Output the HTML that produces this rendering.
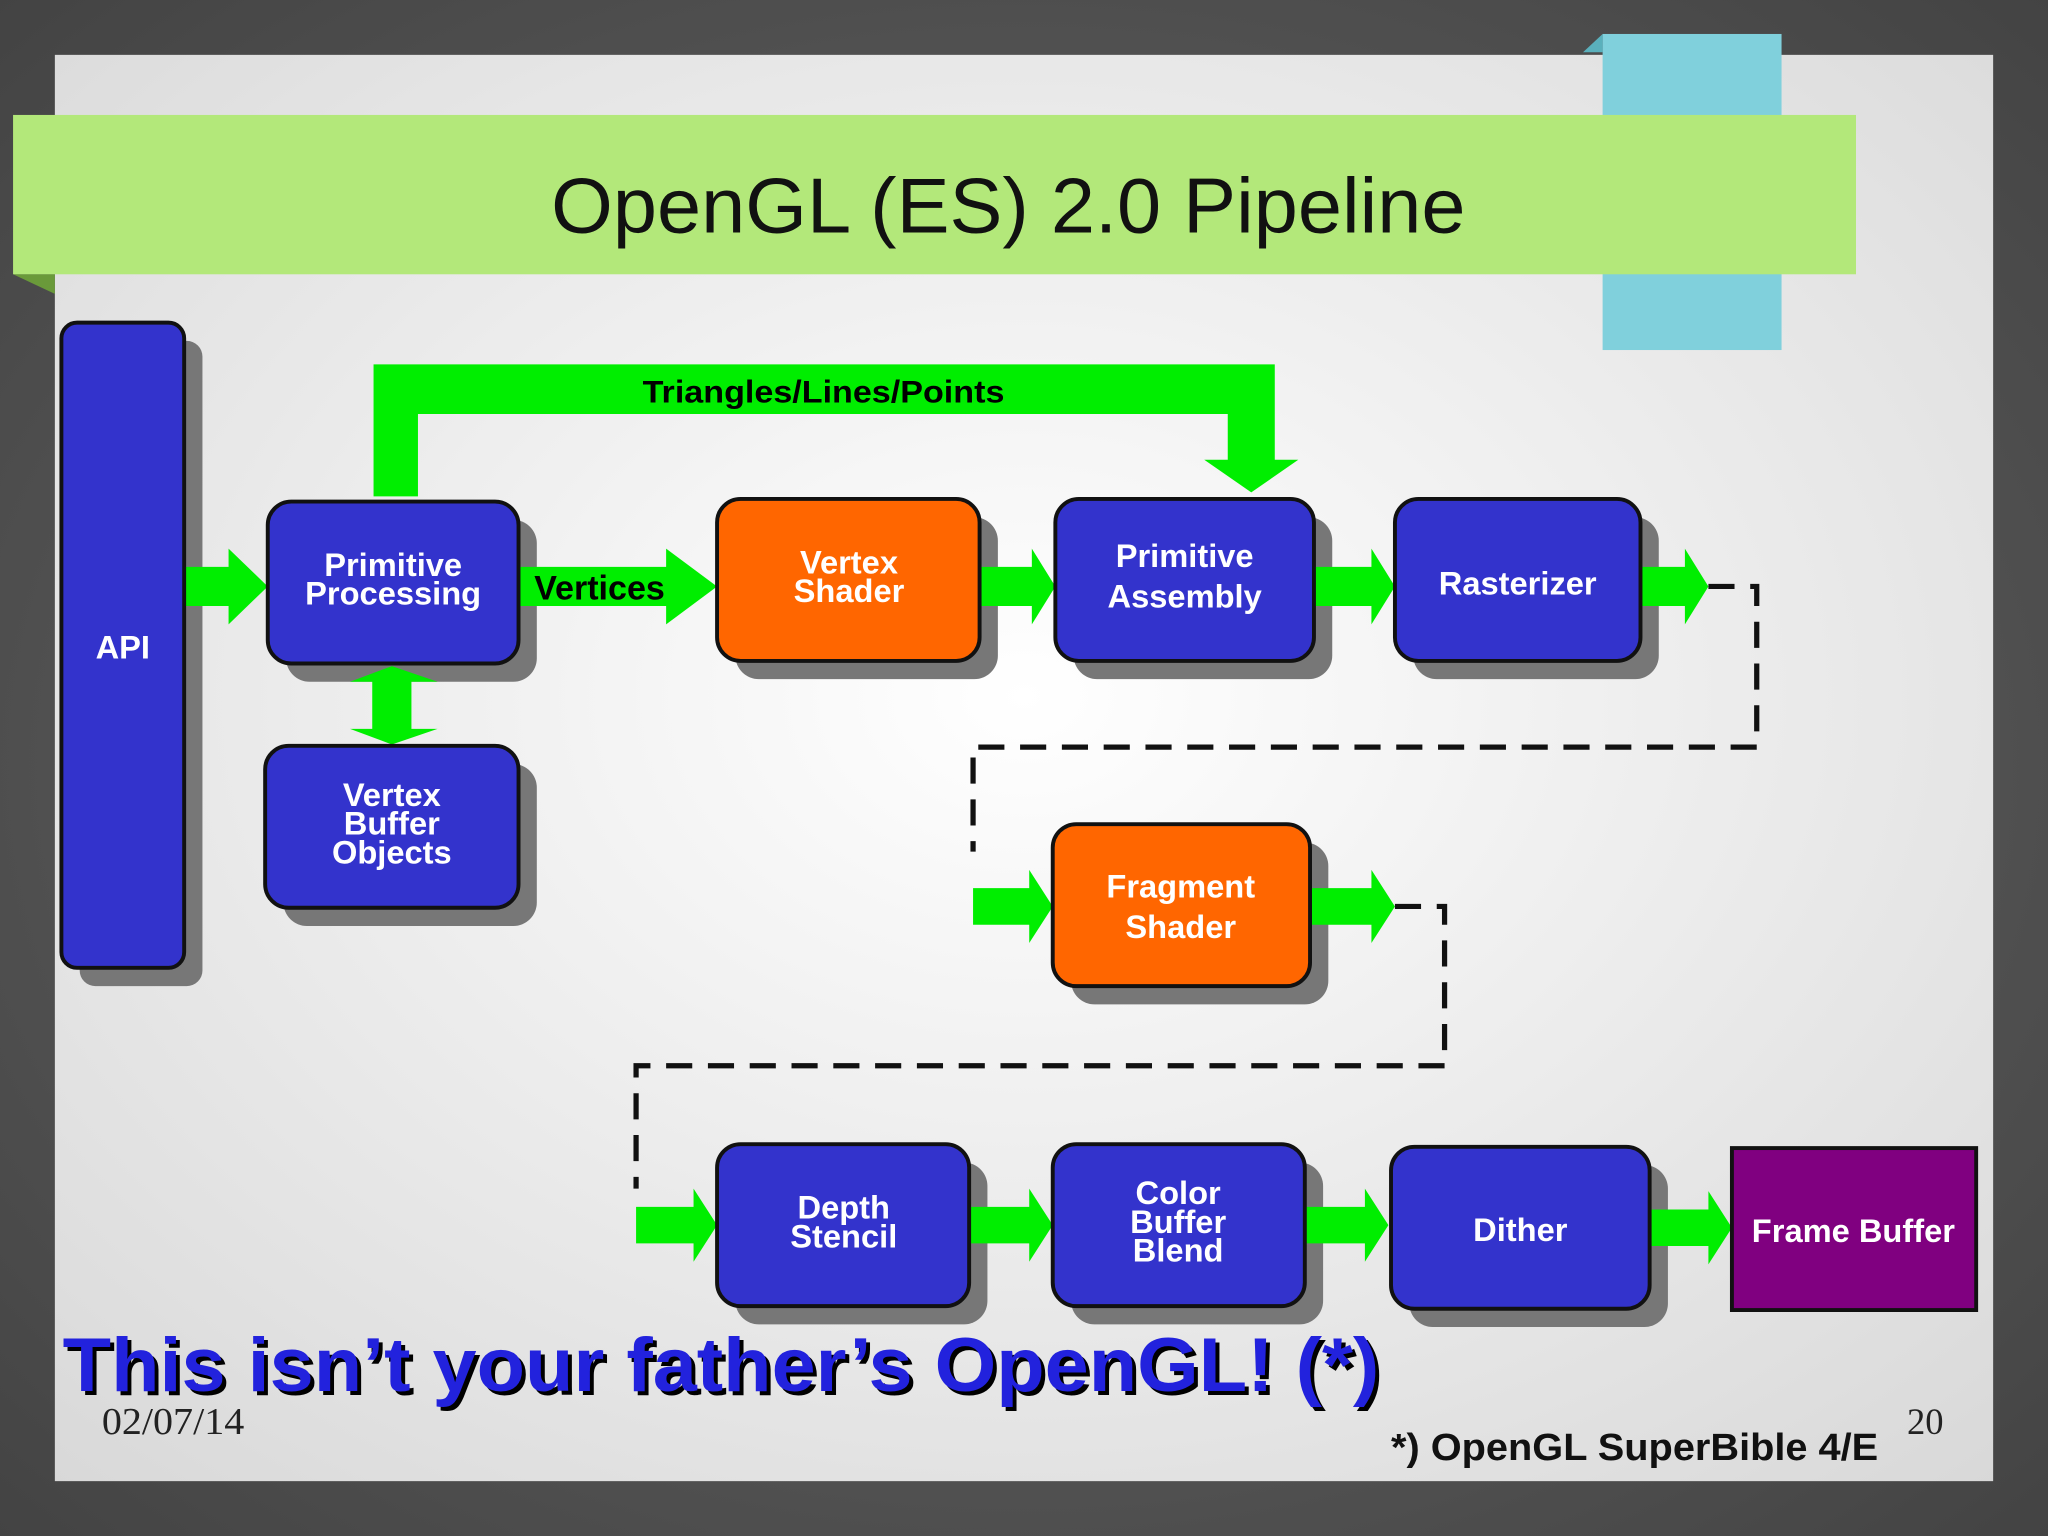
<!DOCTYPE html>
<html><head><meta charset="utf-8"><style>html,body{margin:0;padding:0;background:#555}svg{display:block}</style></head>
<body>
<svg width="2048" height="1536" viewBox="0 0 1568 1176" xmlns="http://www.w3.org/2000/svg" font-family="Liberation Sans, sans-serif">
<defs>
<radialGradient id="bg" cx="0.5" cy="0.45" r="0.75"><stop offset="0" stop-color="#ffffff"/><stop offset="1" stop-color="#d8d8d8"/></radialGradient>
<radialGradient id="outer" cx="0.5" cy="0.5" r="0.8"><stop offset="0" stop-color="#6a6a6a"/><stop offset="1" stop-color="#3e3e3e"/></radialGradient>
</defs>
<rect width="1568" height="1176" fill="url(#outer)"/>
<rect x="42" y="42" width="1484" height="1092" fill="url(#bg)"/>
<rect x="1227" y="26" width="137" height="242" fill="#80d0dc"/>
<polygon points="1212,40 1227,26 1227,40" fill="#5ab0bc"/>
<polygon points="10,210 42,210 42,225" fill="#6a9a3a"/>
<rect x="10" y="88" width="1411" height="122" fill="#b3e87a"/>
<text x="422" y="178" font-size="60" textLength="700" lengthAdjust="spacingAndGlyphs" fill="#111">OpenGL (ES) 2.0 Pipeline</text>

<g fill="#777">
<rect x="61" y="261" width="94" height="494" rx="12"/>
<rect x="219" y="398" width="192" height="124" rx="18"/>
<rect x="563" y="396" width="201" height="124" rx="18"/>
<rect x="822" y="396" width="198" height="124" rx="18"/>
<rect x="1082" y="396" width="188" height="124" rx="18"/>
<rect x="217" y="585" width="194" height="124" rx="18"/>
<rect x="820" y="645" width="197" height="124" rx="18"/>
<rect x="563" y="890" width="193" height="124" rx="18"/>
<rect x="820" y="890" width="193" height="124" rx="18"/>
<rect x="1079" y="892" width="198" height="124" rx="18"/>
</g>

<g fill="#00ee00">
<path d="M286,380 V279 H976 V352 H994 L958,377 L922,352 H940 V317 H320 V380 Z"/>
<path d="M141,434 H175 V420 L205,449 L175,478 V464 H141 Z"/>
<path d="M397,434 H510 V420 L549,449 L510,478 V464 H397 Z"/>
<path d="M750,434 H790 V420 L808,449 L790,478 V464 H750 Z"/>
<path d="M1006,434 H1050 V420 L1068,449 L1050,478 V464 H1006 Z"/>
<path d="M1256,434 H1290 V420 L1308,449 L1290,478 V464 H1256 Z"/>
<path d="M745,680 H788 V666 L806,694 L788,722 V708 H745 Z"/>
<path d="M1003,680 H1050 V666 L1068,694 L1050,722 V708 H1003 Z"/>
<path d="M487,924 H531 V910 L549,938 L531,966 V952 H487 Z"/>
<path d="M742,924 H788 V910 L806,938 L788,966 V952 H742 Z"/>
<path d="M999,924 H1045 V910 L1063,938 L1045,966 V952 H999 Z"/>
<path d="M1263,926 H1308 V912 L1326,940 L1308,968 V954 H1263 Z"/>
<path d="M285,522 L268,522 L300,510 L335,522 L315,522 V558 H335 L300,570 L268,558 H285 Z"/>
</g>
<text x="492" y="308" font-size="24" font-weight="bold" textLength="277" lengthAdjust="spacingAndGlyphs" fill="#000">Triangles/Lines/Points</text>
<text x="409" y="459" font-size="26" font-weight="bold" textLength="100" lengthAdjust="spacingAndGlyphs" fill="#000">Vertices</text>

<g fill="none" stroke="#111" stroke-width="4" stroke-dasharray="20,12">
<path d="M1308,449 H1345 V572 H745 V652"/>
<path d="M1068,694 H1106 V816 H487 V910"/>
</g>

<g stroke="#111" stroke-width="3">
<rect x="47" y="247" width="94" height="494" rx="12" fill="#3333cc"/>
<rect x="205" y="384" width="192" height="124" rx="18" fill="#3333cc"/>
<rect x="549" y="382" width="201" height="124" rx="18" fill="#ff6600"/>
<rect x="808" y="382" width="198" height="124" rx="18" fill="#3333cc"/>
<rect x="1068" y="382" width="188" height="124" rx="18" fill="#3333cc"/>
<rect x="203" y="571" width="194" height="124" rx="18" fill="#3333cc"/>
<rect x="806" y="631" width="197" height="124" rx="18" fill="#ff6600"/>
<rect x="549" y="876" width="193" height="124" rx="18" fill="#3333cc"/>
<rect x="806" y="876" width="193" height="124" rx="18" fill="#3333cc"/>
<rect x="1065" y="878" width="198" height="124" rx="18" fill="#3333cc"/>
<rect x="1326" y="879" width="187" height="124" fill="#800080"/>
</g>

<g fill="#fff" font-size="25" font-weight="bold" text-anchor="middle">
<text x="94" y="504">API</text>
<text x="301" y="441">Primitive</text><text x="301" y="463">Processing</text>
<text x="650" y="439">Vertex</text><text x="650" y="461">Shader</text>
<text x="907" y="434">Primitive</text><text x="907" y="465">Assembly</text>
<text x="1162" y="455">Rasterizer</text>
<text x="300" y="617">Vertex</text><text x="300" y="639">Buffer</text><text x="300" y="661">Objects</text>
<text x="904" y="687">Fragment</text><text x="904" y="718">Shader</text>
<text x="646" y="933">Depth</text><text x="646" y="955">Stencil</text>
<text x="902" y="922">Color</text><text x="902" y="944">Buffer</text><text x="902" y="966">Blend</text>
<text x="1164" y="950">Dither</text>
<text x="1419" y="951">Frame Buffer</text>
</g>

<text x="51" y="1068" font-size="58" font-weight="bold" textLength="1008" lengthAdjust="spacingAndGlyphs" fill="#000">This isn’t your father’s OpenGL! (*)</text>
<text x="48" y="1065" font-size="58" font-weight="bold" textLength="1008" lengthAdjust="spacingAndGlyphs" fill="#2222dd">This isn’t your father’s OpenGL! (*)</text>
<text x="78" y="1098" font-size="29" font-family="Liberation Serif, serif" textLength="109" lengthAdjust="spacingAndGlyphs" fill="#222">02/07/14</text>
<text x="1460" y="1098" font-size="28" font-family="Liberation Serif, serif" fill="#222">20</text>
<text x="1065" y="1118" font-size="29" font-weight="bold" textLength="373" lengthAdjust="spacingAndGlyphs" fill="#111">*) OpenGL SuperBible 4/E</text>
</svg>
</body></html>
